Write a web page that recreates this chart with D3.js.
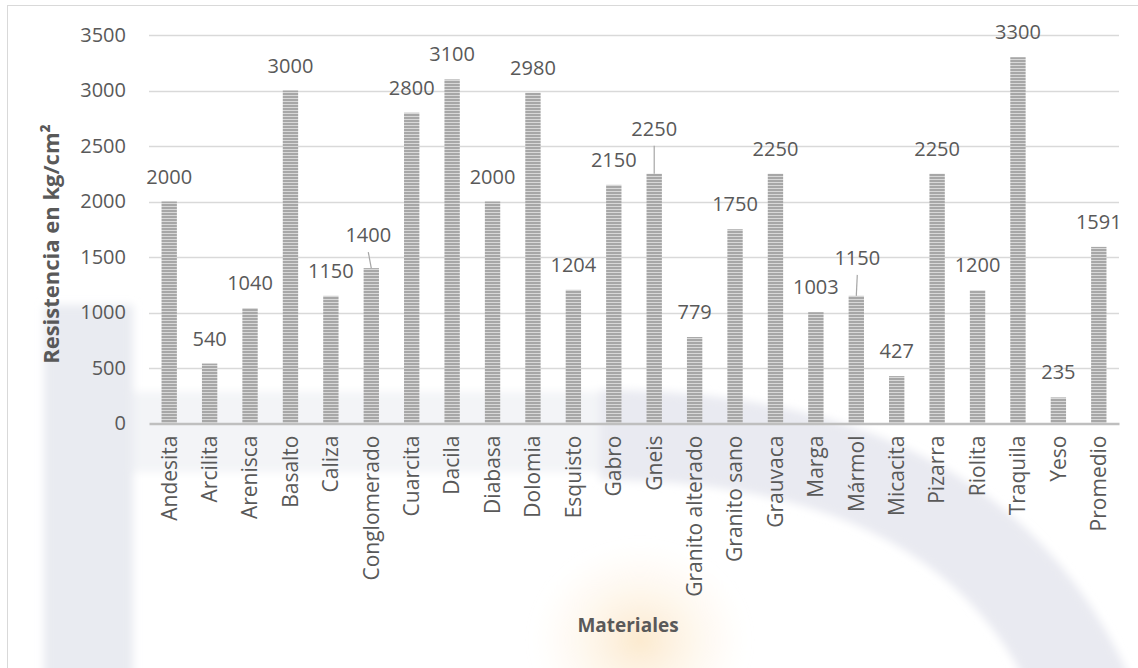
<!DOCTYPE html>
<html>
<head>
<meta charset="utf-8">
<script src="https://cdn.jsdelivr.net/npm/d3@7"></script>
<style>
  html, body { margin: 0; padding: 0; background: #ffffff; }
  svg { display: block; font-family: "Open Sans", sans-serif; }
</style>
</head>
<body>
<svg id="chart" width="1138" height="668"></svg>
<script>
// Compressive strength of rock materials (kg/cm²)
const materiales = [
  "Andesita", "Arcilita", "Arenisca", "Basalto", "Caliza", "Conglomerado",
  "Cuarcita", "Dacila", "Diabasa", "Dolomia", "Esquisto", "Gabro", "Gneis",
  "Granito alterado", "Granito sano", "Grauvaca", "Marga", "Mármol",
  "Micacita", "Pizarra", "Riolita", "Traquila", "Yeso", "Promedio"
];
const resistencia = [
  2000, 540, 1040, 3000, 1150, 1400,
  2800, 3100, 2000, 2980, 1204, 2150, 2250,
  779, 1750, 2250, 1003, 1150,
  427, 2250, 1200, 3300, 235, 1591
];
const yTicks = [0, 500, 1000, 1500, 2000, 2500, 3000, 3500];

// labels lifted off their bars, joined back with a leader line
const leaderLabels = {
  "Conglomerado": { dx: -3, lift: 8 },
  "Gneis": { dx: 0, lift: 20 },
  "Mármol": { dx: 1, lift: 13 }
};

const W = 1138, H = 668;
const margin = { left: 149, right: W - 1119, top: 35, bottom: H - 423.5 };

const svg = d3.select("#chart");
const defs = svg.append("defs");

// horizontal stripe fill of the bars
const pat = defs.append("pattern")
  .attr("id", "hstripe")
  .attr("patternUnits", "userSpaceOnUse")
  .attr("width", 6).attr("height", 3);
pat.append("rect").attr("width", 6).attr("height", 3).attr("fill", "#d8d8d8");
pat.append("rect").attr("width", 6).attr("height", 2).attr("fill", "#a7a7a7");

// soft edge for the faint background emblem
defs.append("filter").attr("id", "soft")
  .attr("x", "-20%").attr("y", "-20%").attr("width", "140%").attr("height", "140%")
  .append("feGaussianBlur").attr("stdDeviation", 4);

const warm = defs.append("radialGradient").attr("id", "warm");
warm.append("stop").attr("offset", "0%").attr("stop-color", "#fbe2bd").attr("stop-opacity", 0.75);
warm.append("stop").attr("offset", "100%").attr("stop-color", "#fdf2e2").attr("stop-opacity", 0);

// chart frame
svg.append("rect")
  .attr("x", 7.5).attr("y", 5.5)
  .attr("width", W + 20).attr("height", H + 20)
  .attr("fill", "#ffffff")
  .attr("stroke", "#d9d9d9").attr("stroke-width", 1);

// faint background emblem
const emblem = svg.append("g").attr("filter", "url(#soft)");
emblem.append("rect")
  .attr("x", 44).attr("y", 305).attr("width", 89).attr("height", 380)
  .attr("fill", "#e9ebf1");
emblem.append("rect")
  .attr("x", 133).attr("y", 392).attr("width", 480).attr("height", 80)
  .attr("fill", "#f3f4f7");
emblem.append("path")
  .attr("d", "M600,390 Q1010,390 1135,690 L1030,690 Q930,480 600,480 Z")
  .attr("fill", "#e9eaf1");
emblem.append("ellipse")
  .attr("cx", 640).attr("cy", 640).attr("rx", 110).attr("ry", 100)
  .attr("fill", "url(#warm)");

const x = d3.scaleBand()
  .domain(materiales)
  .range([margin.left, W - margin.right])
  .paddingInner(0.62)
  .paddingOuter(0.31);

const y = d3.scaleLinear()
  .domain([0, 3500])
  .range([H - margin.bottom, margin.top]);

// gridlines
svg.append("g")
  .selectAll("line")
  .data(yTicks.filter(d => d > 0))
  .join("line")
  .attr("x1", margin.left).attr("x2", W - margin.right)
  .attr("y1", d => Math.round(y(d)) + 0.5).attr("y2", d => Math.round(y(d)) + 0.5)
  .attr("stroke", "#d9d9d9").attr("stroke-width", 1.5);

// y axis labels
const yAxis = svg.append("g")
  .attr("transform", `translate(${margin.left},0)`)
  .call(d3.axisLeft(y).tickValues(yTicks).tickSize(0).tickPadding(23).tickFormat(d3.format("d")));
yAxis.select(".domain").remove();
yAxis.selectAll("text")
  .attr("fill", "#595959")
  .style("font-size", "20px")
  .style("font-family", "'Open Sans', sans-serif");

// bars
const data = materiales.map((m, i) => ({ m, v: resistencia[i] }));
svg.append("g")
  .selectAll("rect")
  .data(data)
  .join("rect")
  .attr("x", d => x(d.m))
  .attr("width", x.bandwidth())
  .attr("y", d => y(d.v))
  .attr("height", d => y(0) - y(d.v))
  .attr("fill", "url(#hstripe)");

// x axis
const xAxis = svg.append("g")
  .attr("transform", `translate(0,${y(0)})`)
  .call(d3.axisBottom(x).tickSize(0).tickPadding(0));
xAxis.select(".domain")
  .attr("stroke", "#bfbfbf").attr("stroke-width", 2.5);
xAxis.selectAll("text")
  .attr("fill", "#595959")
  .style("font-size", "21px")
  .style("font-family", "'Open Sans', sans-serif")
  .attr("transform", "rotate(-90)")
  .attr("text-anchor", "end")
  .attr("dy", "0.35em")
  .attr("x", -12)
  .attr("y", 0);

// value labels
const labels = svg.append("g")
  .attr("fill", "#595959")
  .style("font-size", "20px")
  .attr("text-anchor", "middle");

data.forEach(d => {
  const cx = x(d.m) + x.bandwidth() / 2;
  const top = y(d.v);
  const ll = leaderLabels[d.m];
  const lift = ll ? ll.lift : 0;
  const dx = ll ? ll.dx : 0;
  const base = top - 18 - lift;
  labels.append("text")
    .attr("x", cx + dx)
    .attr("y", base)
    .text(d.v);
  if (ll) {
    svg.append("line")
      .attr("x1", cx + dx).attr("y1", base + 10)
      .attr("x2", cx).attr("y2", top)
      .attr("stroke", "#a6a6a6").attr("stroke-width", 1.2);
  }
});

// axis titles
svg.append("text")
  .attr("transform", `translate(59,244) rotate(-90)`)
  .attr("text-anchor", "middle")
  .attr("fill", "#595959")
  .style("font-size", "22px")
  .style("font-weight", "bold")
  .text("Resistencia en kg/cm²");

svg.append("text")
  .attr("x", 628)
  .attr("y", 632)
  .attr("text-anchor", "middle")
  .attr("fill", "#595959")
  .style("font-size", "19px")
  .style("font-weight", "bold")
  .text("Materiales");
</script>
</body>
</html>
